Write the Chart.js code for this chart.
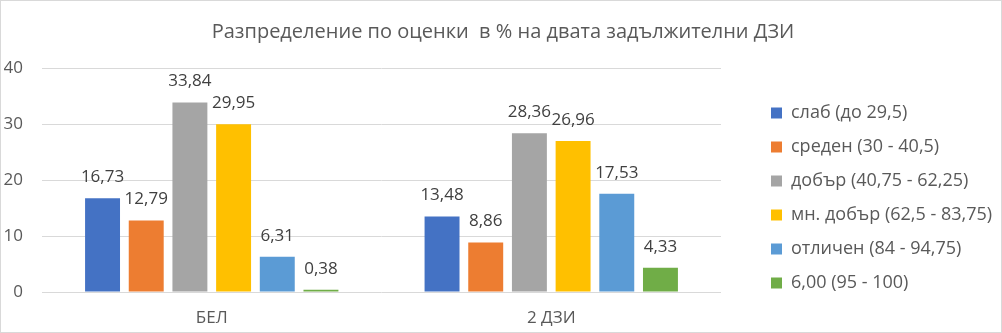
<!DOCTYPE html>
<html><head><meta charset="utf-8">
<script src="https://cdn.jsdelivr.net/npm/chart.js@4.4.0/dist/chart.umd.min.js"></script>
<style>
html,body{margin:0;padding:0;background:#fff;overflow:hidden;}
#wrap{position:relative;width:1002px;height:333px;}
#c{display:block;}
#frame{position:absolute;left:0;top:0;width:1002px;height:333px;box-sizing:border-box;border:1px solid #d9d9d9;pointer-events:none;}
</style></head>
<body><div id="wrap"><canvas id="c" width="1002" height="333"></canvas><div id="frame"></div></div>
<script>
const categories = ["БЕЛ", "2 ДЗИ"];
const seriesNames = ["слаб (до 29,5)", "среден (30 - 40,5)", "добър (40,75 - 62,25)", "мн. добър (62,5 - 83,75)", "отличен (84 - 94,75)", "6,00 (95 - 100)"];
const slab = [16.73, 13.48];
const sreden = [12.79, 8.86];
const dobar = [33.84, 28.36];
const mnDobar = [29.95, 26.96];
const otlichen = [6.31, 17.53];
const shest = [0.38, 4.33];
const yTicks = [0, 10, 20, 30, 40];
const colors = ["#4472C4", "#ED7D31", "#A5A5A5", "#FFC000", "#5B9BD5", "#70AD47"];
const FONT = "'Open Sans', sans-serif";

const seriesValues = [slab, sreden, dobar, mnDobar, otlichen, shest];
const datasets = seriesValues.map((v, i) => ({
  label: seriesNames[i], data: v, backgroundColor: colors[i],
  categoryPercentage: 0.772, barPercentage: 0.8
}));

const LEGEND_PAD = 16;
const legendLayout = {
  id: 'legendLayout',
  beforeLayout(chart) {
    const lg = chart.legend;
    if (lg && !lg._patched) {
      const f = lg.fit.bind(lg);
      lg.fit = function () { f(); this.width = 281; };
      lg._patched = true;
    }
  },
  afterLayout(chart) {
    const lg = chart.legend;
    if (lg) { lg.left = 771 - LEGEND_PAD; lg.top = 88; }
  }
};

const labelPlugin = {
  id: 'valLabels',
  afterDatasetsDraw(chart) {
    const ctx = chart.ctx;
    ctx.save();
    ctx.font = "17px " + FONT;
    ctx.fillStyle = "#404040";
    ctx.textAlign = "center";
    ctx.textBaseline = "middle";
    chart.data.datasets.forEach((ds, i) => {
      chart.getDatasetMeta(i).data.forEach((el, j) => {
        const txt = ds.data[j].toFixed(2).replace('.', ',');
        ctx.fillText(txt, el.x, el.y - 21);
      });
    });
    ctx.restore();
  }
};

new Chart(document.getElementById('c'), {
  type: 'bar',
  data: { labels: categories, datasets },
  options: {
    responsive: false, animation: false, devicePixelRatio: 1,
    layout: { padding: { left: 4, right: 0, top: 0, bottom: 6 } },
    plugins: {
      title: { display: true, text: "Разпределение по оценки  в % на двата задължителни ДЗИ",
        color: "#595959", font: { family: FONT, size: 20, weight: 'normal' }, padding: { top: 20, bottom: 24 } },
      legend: { position: 'right', align: 'start',
        labels: { boxWidth: 11, boxHeight: 11, padding: LEGEND_PAD, color: "#595959",
          font: { family: FONT, size: 18 } } },
      tooltip: { enabled: false }
    },
    scales: {
      x: { grid: { display: false, drawTicks: false }, border: { display: false },
        afterFit: s => { s.height = 35; },
        ticks: { color: "#595959", padding: 16, font: { family: FONT, size: 17 } } },
      y: { min: 0, max: 40, afterBuildTicks: a => { a.ticks = yTicks.map(v => ({ value: v })); },
        afterFit: s => { s.width = 38; },
        grid: { color: "#d9d9d9", drawTicks: false }, border: { display: false },
        ticks: { color: "#595959", padding: 19, font: { family: FONT, size: 17 } } }
    }
  },
  plugins: [legendLayout, labelPlugin]
});
</script></body></html>
